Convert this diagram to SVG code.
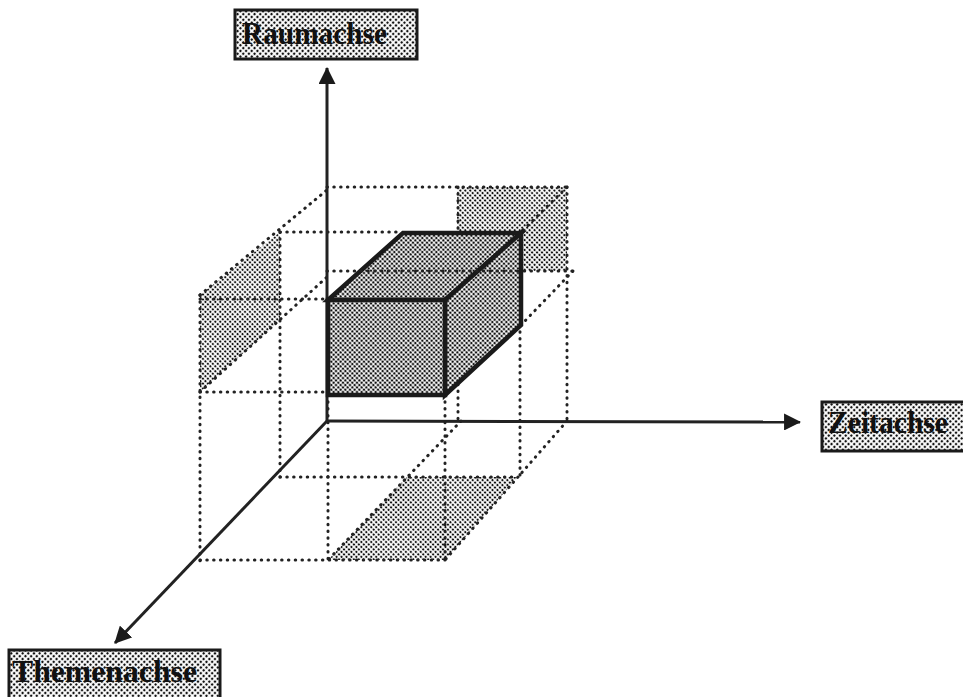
<svg xmlns="http://www.w3.org/2000/svg" width="963" height="697" viewBox="0 0 963 697">
<defs>
<style>
.dot{fill:none;stroke:#222;stroke-width:3;stroke-dasharray:0.5 6.3;stroke-linecap:round}
.axis{fill:none;stroke:#222;stroke-width:3}
.cube{stroke:#1a1a1a;stroke-width:4.5;stroke-linejoin:miter;fill:url(#htDense)}
.ghost{fill:url(#htGhost);stroke:none}
.lbl{fill:url(#htLabel);stroke:#1a1a1a;stroke-width:3}
.txt{font-family:"Liberation Serif","Times New Roman",serif;font-weight:bold;font-size:32px;fill:#111}
</style>
<pattern id="htDense" width="3.3" height="3.3" patternUnits="userSpaceOnUse" patternTransform="rotate(45)">
<rect width="3.3" height="3.3" fill="#fff"/><circle cx="1.65" cy="1.65" r="1.3" fill="#111"/>
</pattern>
<pattern id="htGhost" width="3.5" height="3.5" patternUnits="userSpaceOnUse" patternTransform="rotate(45)">
<rect width="3.5" height="3.5" fill="#fff"/><circle cx="1.75" cy="1.75" r="1.2" fill="#111"/>
</pattern>
<pattern id="htLabel" width="4" height="4" patternUnits="userSpaceOnUse" patternTransform="rotate(45)">
<rect width="4" height="4" fill="#fff"/><circle cx="2" cy="2" r="1.25" fill="#111"/>
</pattern>
<marker id="arr" viewBox="0 0 16 16" refX="15" refY="8" markerWidth="17" markerHeight="17" markerUnits="userSpaceOnUse" orient="auto">
<path d="M0,0 L16,8 L0,16 Z" fill="#1a1a1a"/>
</marker>
</defs>
<rect width="963" height="697" fill="#fff"/>

<g id="shading">
<polygon class="ghost" points="457,187 567,187 567,271 457,271"/>
<polygon class="ghost" points="200,295 280,232 280,320 200,392"/>
<polygon class="ghost" points="407,477 518,477 445,560 328,560"/>
</g>

<g id="connectors">
<g id="grid">
<line class="dot" x1="327" y1="187" x2="567" y2="187"/>
<line class="dot" x1="458" y1="187" x2="458" y2="421"/>
<line class="dot" x1="567" y1="187" x2="567" y2="421"/>
<line class="dot" x1="573" y1="271" x2="521" y2="325"/>
<line class="dot" x1="567" y1="187" x2="520" y2="233"/>
<line class="dot" x1="200" y1="295" x2="327" y2="190"/>
<line class="dot" x1="200" y1="392" x2="327" y2="277"/>
<line class="dot" x1="280" y1="232" x2="400" y2="232"/>
<line class="dot" x1="200" y1="299" x2="327" y2="299"/>
<line class="dot" x1="200" y1="392" x2="327" y2="392"/>
<line class="dot" x1="200" y1="295" x2="200" y2="563"/>
<line class="dot" x1="280" y1="232" x2="280" y2="477"/>
<line class="dot" x1="445" y1="395" x2="445" y2="560"/>
<line class="dot" x1="520" y1="325" x2="520" y2="477"/>
<line class="dot" x1="328" y1="395" x2="328" y2="560"/>
<line class="dot" x1="567" y1="421" x2="518" y2="477"/>
<line class="dot" x1="461" y1="421" x2="328" y2="560"/>
<line class="dot" x1="280" y1="477" x2="518" y2="477"/>
<line class="dot" x1="200" y1="560" x2="445" y2="560"/>
<line class="dot" x1="518" y1="477" x2="445" y2="560"/>
</g>
<g id="axes">
<line class="axis" x1="327" y1="421" x2="327" y2="68" marker-end="url(#arr)"/>
<line class="axis" x1="327" y1="421" x2="800" y2="422" marker-end="url(#arr)"/>
<line class="axis" x1="327" y1="421" x2="115" y2="643" marker-end="url(#arr)"/>
</g>
</g>

<g id="cube">
<polygon class="cube" points="328,300 403,233 521,233 445,300"/>
<polygon class="cube" points="445,300 521,233 521,325 445,395"/>
<polygon class="cube" points="328,300 445,300 445,395 328,395"/>
<line class="dot" x1="327" y1="271" x2="573" y2="271"/>
</g>

<g id="raumachse">
<rect class="lbl" x="235" y="10" width="182" height="49"/>
<text class="txt" x="242" y="44" textLength="145" lengthAdjust="spacingAndGlyphs">Raumachse</text>
</g>
<g id="zeitachse">
<rect class="lbl" x="822" y="402" width="150" height="49"/>
<text class="txt" x="828" y="433" textLength="120" lengthAdjust="spacingAndGlyphs">Zeitachse</text>
</g>
<g id="themenachse">
<rect class="lbl" x="9" y="650" width="211" height="60"/>
<text class="txt" x="12" y="682" textLength="185" lengthAdjust="spacingAndGlyphs">Themenachse</text>
</g>
</svg>
